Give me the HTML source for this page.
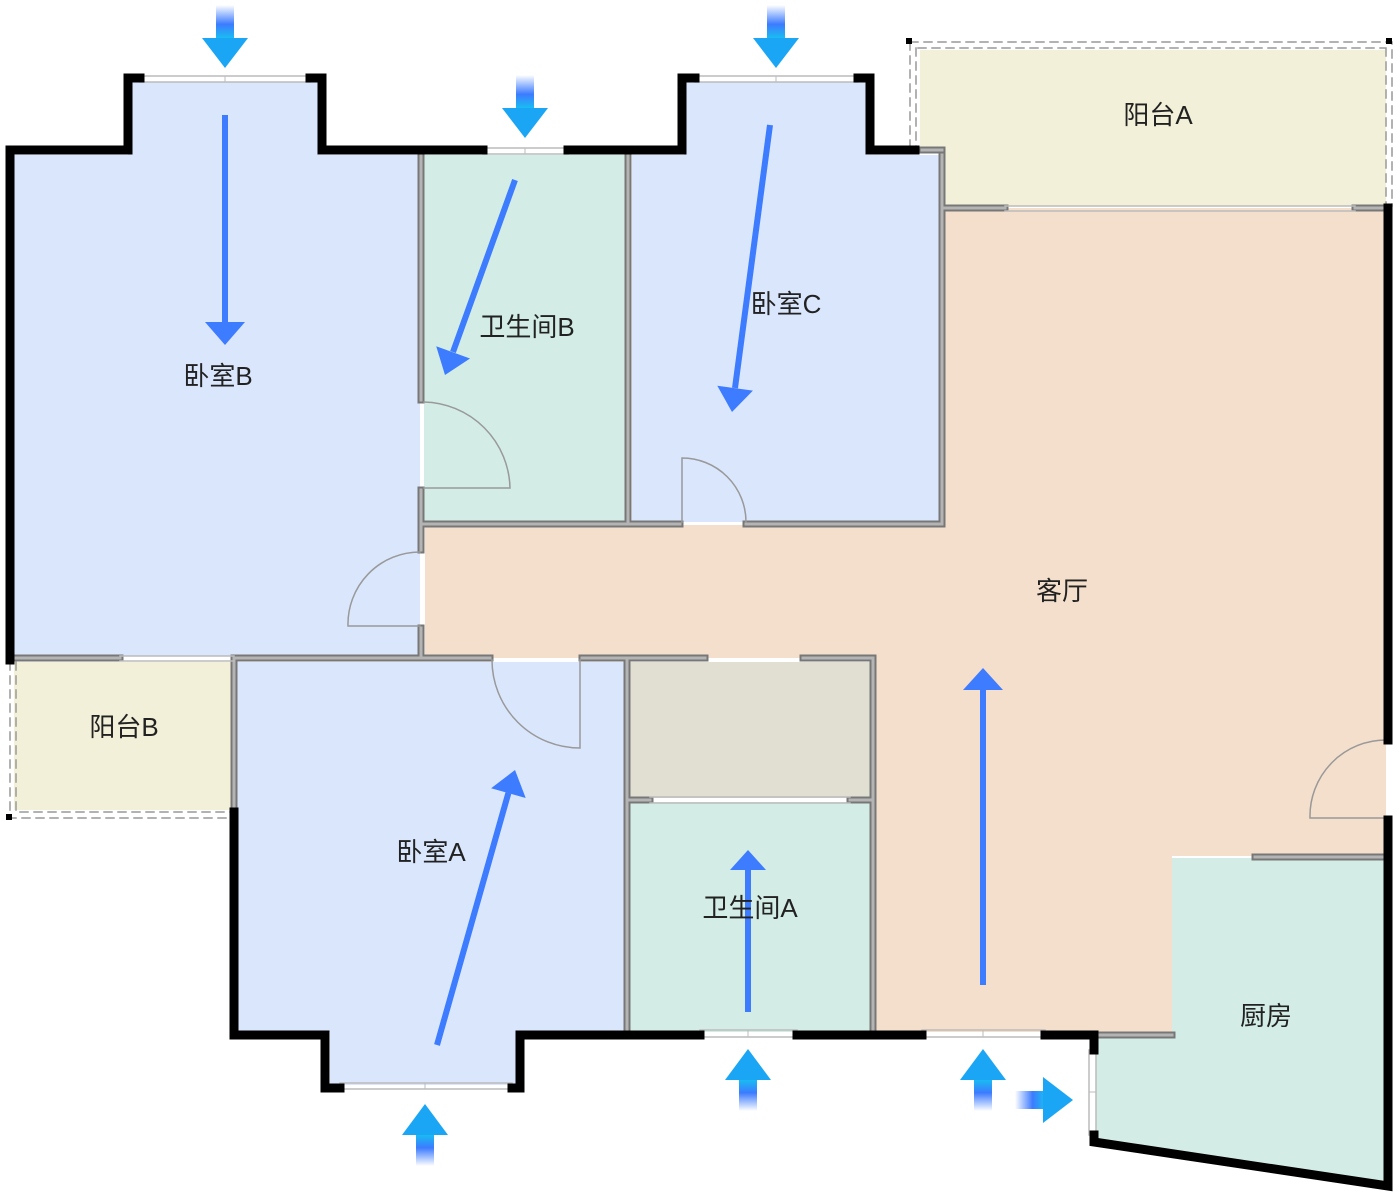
<!DOCTYPE html>
<html><head><meta charset="utf-8"><style>
html,body{margin:0;padding:0;background:#fff;}
svg{display:block}
text{font-family:"Liberation Sans","Noto Sans CJK SC",sans-serif;font-size:26px;fill:#222;text-anchor:middle;dominant-baseline:middle}
</style></head><body>
<svg width="1400" height="1199" viewBox="0 0 1400 1199" xmlns="http://www.w3.org/2000/svg">
<defs>
<linearGradient id="gd" x1="0" y1="0" x2="0" y2="1"><stop offset="0" stop-color="#3d7bff" stop-opacity="0"/><stop offset="0.55" stop-color="#3d7bff"/><stop offset="1" stop-color="#14c6f0"/></linearGradient>
<linearGradient id="gu" x1="0" y1="1" x2="0" y2="0"><stop offset="0" stop-color="#3d7bff" stop-opacity="0"/><stop offset="0.55" stop-color="#3d7bff"/><stop offset="1" stop-color="#14c6f0"/></linearGradient>
<linearGradient id="gr" x1="0" y1="0" x2="1" y2="0"><stop offset="0" stop-color="#3d7bff" stop-opacity="0"/><stop offset="0.55" stop-color="#3d7bff"/><stop offset="1" stop-color="#14c6f0"/></linearGradient>
</defs>
<polygon fill="#d9e6fc" points="14,155 128,155 128,82 318,82 318,155 420,155 420,656 14,656"/>
<rect fill="#d3ede6" x="424" y="155" width="204" height="367"/>
<polygon fill="#d9e6fc" points="632,155 684,155 684,82 866,82 866,155 940,155 940,522 632,522"/>
<polygon fill="#f2f0d8" points="920,50 1386,50 1386,206 944,206 944,150 920,150"/>
<polygon fill="#f3dfcb" points="942,208 1386,208 1386,856 1172,856 1172,1032 875,1032 875,658 425,658 425,525 942,525"/>
<rect fill="#f2f0d8" x="14" y="662" width="220" height="148"/>
<polygon fill="#d9e6fc" points="237,662 624,662 624,1032 518,1032 518,1085 330,1085 330,1032 237,1032"/>
<rect fill="#e0dfd2" x="630" y="662" width="240" height="136"/>
<rect fill="#d3ede6" x="630" y="802" width="240" height="230"/>
<polygon fill="#d3ede6" points="1172,858 1386,858 1386,1182 1096,1140 1096,1035 1172,1035"/>
<g fill="none" stroke-linecap="square">
<g stroke="#777" stroke-width="7">
<path d="M421,155V400 M421,490V550 M421,628V658 M628,155V522 M424,524H680 M746,524H942 M942,155V524 M922,150H942 M942,208H1005 M1355,208H1388 M236,658H490 M582,658H705 M803,658H873 M234,658V810 M627,658V1032 M873,658V1032 M627,800H650 M850,800H873 M1255,857H1386 M1098,1035H1172 M14,658H120"/>
</g>
<g stroke="#b4b4b4" stroke-width="3">
<path d="M421,155V400 M421,490V550 M421,628V658 M628,155V522 M424,524H680 M746,524H942 M942,155V524 M922,150H942 M942,208H1005 M1355,208H1388 M236,658H490 M582,658H705 M803,658H873 M234,658V810 M627,658V1032 M873,658V1032 M627,800H650 M850,800H873 M1255,857H1386 M1098,1035H1172 M14,658H120"/>
</g>
<g stroke="#bbb" stroke-width="1.5">
<path d="M1005,206H1355 M1005,211H1355 M120,656H234 M120,661H234 M650,797H850 M650,803H850 M140,76H310 M140,82H310 M695,76H858 M695,82H858 M483,148H568 M483,154H568 M340,1083H512 M340,1089H512 M700,1030H797 M700,1037H797 M922,1030H1045 M922,1037H1045 M1089,1050V1135 M1096,1050V1135"/>
</g>
<path stroke="#bbb" stroke-width="1" d="M225,76V82 M525,148V154 M776,76V82 M425,1083V1089 M748,1030V1037 M983,1030V1037 M1089,1092H1096"/>
<g stroke="#999" stroke-width="1.5">
<path d="M424,488H510A88,88 0 0 0 424,402"/>
<path d="M682,522V458A64,64 0 0 1 746,522"/>
<path d="M420,626H348A72,72 0 0 1 420,552"/>
<path d="M580,660V748A88,88 0 0 1 492,660"/>
<path d="M1386,818H1310A76,76 0 0 1 1386,740"/>
</g>
<g stroke="#999" stroke-width="1.5" stroke-dasharray="8,6">
<path d="M910,42H1392V206 M910,42V150 M10,662V818H234 M918,48H1386 M916,48V150 M16,662V812H234 M1386,48V206"/>
</g>
<g stroke="#000" stroke-width="9">
<path d="M10,660V150H128V78H140 M310,78H322V150H483 M568,150H682V78H695 M858,78H870V150H915"/>
<path d="M234,812V1035H325V1088H340 M512,1088H520V1035H700 M797,1035H922 M1045,1035H1094V1050 M1094,1135V1142L1388,1186V820 M1388,740V208"/>
</g>
<rect x="906" y="38" width="6" height="6" fill="#000"/><rect x="1386" y="38" width="6" height="6" fill="#000"/><rect x="6" y="814" width="6" height="6" fill="#000"/>
</g>
<g stroke="#3d7bff" stroke-width="6" fill="#3d7bff">
<line x1="225" y1="115" x2="225" y2="325"/><polygon stroke="none" points="205,322 245,322 225,345"/>
<line x1="515" y1="180" x2="453" y2="352"/><polygon stroke="none" points="470,358.5 436.2,346.3 445,375"/>
<line x1="770" y1="125" x2="735" y2="388"/><polygon stroke="none" points="752.9,390.6 717.3,385.8 732,412"/>
<line x1="437" y1="1045" x2="508.4" y2="793"/><polygon stroke="none" points="525.7,798 491.1,788.2 515,770"/>
<line x1="748" y1="1012" x2="748" y2="868"/><polygon stroke="none" points="730,870 766,870 748,850"/>
<line x1="983" y1="985" x2="983" y2="688"/><polygon stroke="none" points="963,690 1003,690 983,668"/>
</g>
<g>
<rect x="216" y="5" width="18" height="35" fill="url(#gd)"/><polygon points="202,38 248,38 225,68" fill="#1aa6f5"/>
<rect x="516" y="75" width="18" height="35" fill="url(#gd)"/><polygon points="502,108 548,108 525,138" fill="#1aa6f5"/>
<rect x="767" y="5" width="18" height="35" fill="url(#gd)"/><polygon points="753,38 799,38 776,68" fill="#1aa6f5"/>
<rect x="416" y="1133" width="18" height="33" fill="url(#gu)"/><polygon points="402,1135 448,1135 425,1104" fill="#1aa6f5"/>
<rect x="739" y="1078" width="18" height="33" fill="url(#gu)"/><polygon points="725,1080 771,1080 748,1049" fill="#1aa6f5"/>
<rect x="974" y="1078" width="18" height="33" fill="url(#gu)"/><polygon points="960,1080 1006,1080 983,1049" fill="#1aa6f5"/>
<rect x="1015" y="1091" width="32" height="18" fill="url(#gr)"/><polygon points="1043,1077 1043,1123 1073,1100" fill="#1aa6f5"/>
</g>
<text x="218" y="378">卧室B</text>
<text x="527" y="329">卫生间B</text>
<text x="786" y="306">卧室C</text>
<text x="1158" y="117">阳台A</text>
<text x="1062" y="593">客厅</text>
<text x="124" y="729">阳台B</text>
<text x="431" y="854">卧室A</text>
<text x="750" y="910">卫生间A</text>
<text x="1266" y="1018">厨房</text>
</svg>
</body></html>
